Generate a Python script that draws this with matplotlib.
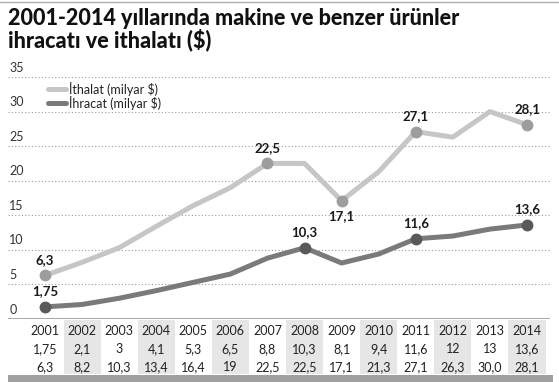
import numpy as np
import matplotlib
matplotlib.use("Agg")
import matplotlib.pyplot as plt
from matplotlib import transforms
from matplotlib.patches import Rectangle
from matplotlib.lines import Line2D

years = [2001, 2002, 2003, 2004, 2005, 2006, 2007, 2008, 2009, 2010, 2011, 2012, 2013, 2014]
ihracat = [1.75, 2.1, 3, 4.1, 5.3, 6.5, 8.8, 10.3, 8.1, 9.4, 11.6, 12, 13, 13.6]
ithalat = [6.3, 8.2, 10.3, 13.4, 16.4, 19, 22.5, 22.5, 17.1, 21.3, 27.1, 26.3, 30.0, 28.1]
ihracat_txt = ["1,75", "2,1", "3", "4,1", "5,3", "6,5", "8,8", "10,3", "8,1", "9,4", "11,6", "12", "13", "13,6"]
ithalat_txt = ["6,3", "8,2", "10,3", "13,4", "16,4", "19", "22,5", "22,5", "17,1", "21,3", "27,1", "26,3", "30,0", "28,1"]
y_ticks = [0, 5, 10, 15, 20, 25, 30, 35]

# which points get a dot and a label (index, above/below)
ithalat_marks = [(0, 1), (6, 1), (8, -1), (10, 1), (13, 1)]
ihracat_marks = [(0, 1), (7, 1), (10, 1), (13, 1)]

title = "2001-2014 yıllarında makine ve benzer ürünler\nihracatı ve ithalatı ($)"

plt.rcParams['font.family'] = ['Lato', 'DejaVu Sans']

W, H = 559, 382
fig = plt.figure(figsize=(W / 100, H / 100), dpi=100)

# axes placed in pixel terms
left_px, right_px, top_px, bot_px = 8, 550, 77, 319
ax = fig.add_axes([left_px / W, (H - bot_px) / H, (right_px - left_px) / W, (bot_px - top_px) / H])
x = np.arange(len(years))
step = (527 - 45) / 13
ax.set_xlim(-(45 - left_px) / step, 13 + (right_px - 527) / step)
ax.set_ylim(0, 35)
ax.axis('off')

light = '#c6c6c6'
light_dot = '#9d9d9d'
dark = '#7a7a7a'
dark_dot = '#595959'
grid_c = '#9a9a9a'

for t in y_ticks[1:]:
    ax.axhline(t, color=grid_c, lw=0.8, ls=(0, (1, 2)), zorder=1)
ax.axhline(0, color=grid_c, lw=1.2, zorder=1)
for t in y_ticks:
    ax.annotate(str(t), xy=(0, t), xycoords=('axes fraction', 'data'),
                xytext=(1, 2.5), textcoords='offset points', ha='left', va='bottom',
                fontsize=9, color='#333333')

ax.plot(x, ithalat, color=light, lw=3.6, solid_joinstyle='round', zorder=3)
ax.plot(x, ihracat, color=dark, lw=3.6, solid_joinstyle='round', zorder=3)

for i, d in ithalat_marks:
    ax.plot(x[i], ithalat[i], 'o', color=light_dot, ms=7.5, zorder=4)
    ax.annotate(ithalat_txt[i], (x[i], ithalat[i]), xytext=(0, 7 * d), textcoords='offset points',
                ha='center', va='bottom' if d > 0 else 'top', fontsize=9.5, fontweight='bold', color='#1a1a1a')
for i, d in ihracat_marks:
    ax.plot(x[i], ihracat[i], 'o', color=dark_dot, ms=7.5, zorder=4)
    ax.annotate(ihracat_txt[i], (x[i], ihracat[i]), xytext=(0, 7 * d), textcoords='offset points',
                ha='center', va='bottom', fontsize=9.5, fontweight='bold', color='#1a1a1a')

# legend drawn by hand
for yy, c, lab in [(89, light, 'İthalat (milyar $)'), (103, dark, 'İhracat (milyar $)')]:
    fig.add_artist(Line2D([48 / W, 66 / W], [(H - yy) / H] * 2, color=c, lw=3.6, solid_capstyle='round'))
    fig.text(69 / W, (H - yy) / H, lab, fontsize=9, color='#222222', va='center', ha='left')

# table under the chart
tr = transforms.blended_transform_factory(ax.transData, fig.transFigure)
for i, yr in enumerate(years):
    if i % 2 == 1:
        fig.add_artist(Rectangle((x[i] - 0.5, (H - 374) / H), 1, (374 - 320) / H,
                                 transform=tr, color='#e6e6e6', lw=0, zorder=0))
    fig.text(x[i], (H - 331) / H, str(yr), transform=tr, ha='center', va='center', fontsize=9, color='#222222')
    fig.text(x[i], (H - 349) / H, ihracat_txt[i], transform=tr, ha='center', va='center', fontsize=9, color='#222222')
    fig.text(x[i], (H - 367) / H, ithalat_txt[i], transform=tr, ha='center', va='center', fontsize=9, color='#222222')

fig.add_artist(Rectangle((left_px / W, 0), (right_px + 3 - left_px) / W, (382 - 375) / H,
                         transform=fig.transFigure, color='#a0a0a0', lw=0))
fig.add_artist(Line2D([0, 1], [(H - 1.5) / H] * 2, color='#b0b0b0', lw=1))

fig.text(8 / W, (H - 8) / H, title, fontsize=15.5, fontweight='black', va='top', ha='left',
         color='#111111', linespacing=1.0)

fig.savefig('out.png', dpi=100)
